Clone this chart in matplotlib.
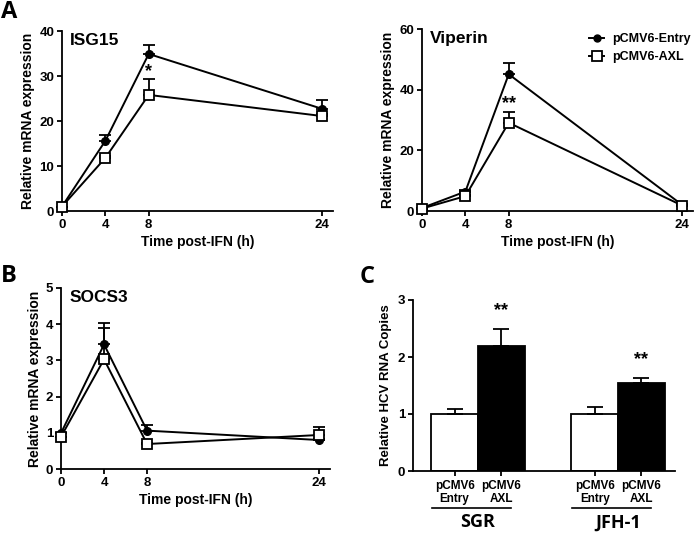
import matplotlib
matplotlib.use("Agg")
import matplotlib.pyplot as plt
import matplotlib.transforms as mtransforms
from matplotlib.lines import Line2D

# ---- data ----
time_h = [0, 4, 8, 24]
time_ticks = [0, 4, 8, 24]

isg15_entry = [1.0, 15.6, 34.9, 22.7]
isg15_entry_err = [0.0, 1.3, 2.1, 2.0]
isg15_axl = [1.0, 11.8, 25.8, 21.1]
isg15_axl_err = [0.0, 0.4, 3.5, 0.5]

viperin_entry = [1.0, 6.4, 45.1, 2.0]
viperin_entry_err = [0.0, 0.4, 3.6, 0.3]
viperin_axl = [0.8, 4.9, 29.1, 1.8]
viperin_axl_err = [0.0, 0.4, 3.6, 0.3]

socs3_entry = [0.99, 3.44, 1.06, 0.80]
socs3_entry_err = [0.0, 0.60, 0.15, 0.04]
socs3_axl = [0.89, 3.03, 0.69, 0.94]
socs3_axl_err = [0.0, 0.86, 0.04, 0.21]

bar_labels = ["pCMV6\nEntry", "pCMV6\nAXL", "pCMV6\nEntry", "pCMV6\nAXL"]
bar_groups = ["SGR", "JFH-1"]
hcv_copies = [1.0, 2.2, 1.0, 1.55]
hcv_err = [0.08, 0.30, 0.13, 0.08]
hcv_stars = ["", "**", "", "**"]

series_names = ["pCMV6-Entry", "pCMV6-AXL"]

# ---- figure ----
W, H = 695, 533
plt.rcParams['font.family'] = ['Liberation Sans', 'DejaVu Sans']
plt.rcParams['font.weight'] = 'bold'
plt.rcParams['axes.linewidth'] = 1.3
fig = plt.figure(figsize=(W / 100, H / 100), dpi=100)

def px_axes(left, right, top, bottom):
    # pixel box (origin top-left) -> figure fraction
    return fig.add_axes([left / W, 1 - bottom / H, (right - left) / W, (bottom - top) / H])

def style(ax):
    for s in ['top', 'right']:
        ax.spines[s].set_visible(False)
    ax.tick_params(direction='out', length=3.5, width=1.3, labelsize=9.5, pad=2)
    for lab in ax.get_xticklabels() + ax.get_yticklabels():
        lab.set_fontweight('bold')

def line_panel(ax, entry, entry_err, axl, axl_err, ymax, yticks, name):
    z = [0] * len(time_h)
    ax.errorbar(time_h, entry, yerr=[z, entry_err], fmt='none', ecolor='black',
                elinewidth=1.3, capsize=4, capthick=1.3, zorder=2, clip_on=False)
    ax.errorbar(time_h, axl, yerr=[z, axl_err], fmt='none', ecolor='black',
                elinewidth=1.3, capsize=4, capthick=1.3, zorder=2, clip_on=False)
    ax.plot(time_h, entry, '-o', color='black', lw=1.4, ms=5.5, zorder=3, clip_on=False)
    ax.plot(time_h, axl, '-s', color='black', mfc='white', mec='black', mew=1.3,
            lw=1.4, ms=7.5, zorder=4, clip_on=False)
    ax.set_xlim(0, 25)
    ax.set_ylim(0, ymax)
    ax.set_xticks(time_ticks)
    ax.set_yticks(yticks)
    ax.set_xlabel("Time post-IFN (h)", fontsize=10, fontweight='bold', labelpad=3)
    ax.set_ylabel("Relative mRNA expression", fontsize=10, fontweight='bold', labelpad=3)
    ax.text(0.03, 0.95, name, transform=ax.transAxes, fontsize=12.5, fontweight='bold',
            ha='left', va='center')
    style(ax)

# panel A left
ax1 = px_axes(62, 333, 31, 211)
line_panel(ax1, isg15_entry, isg15_entry_err, isg15_axl, isg15_axl_err,
           40, [0, 10, 20, 30, 40], "ISG15")
ax1.text(8, 31, "*", ha='center', va='center', fontsize=13, fontweight='bold')

# panel A right
ax2 = px_axes(422, 693, 29, 211)
line_panel(ax2, viperin_entry, viperin_entry_err, viperin_axl, viperin_axl_err,
           60, [0, 20, 40, 60], "Viperin")
ax2.text(8, 35.5, "**", ha='center', va='center', fontsize=13, fontweight='bold')

# legend
handles = [Line2D([], [], color='black', marker='o', ms=5, lw=1.4),
           Line2D([], [], color='black', marker='s', ms=6.5, mfc='white', mew=1.3, lw=1.4)]
fig.legend(handles, series_names, loc='upper left', bbox_to_anchor=(583 / W, 1 - 27 / H),
           frameon=False, handlelength=1.2, handletextpad=0.6, labelspacing=0.45,
           borderpad=0, prop={'weight': 'bold', 'size': 9})

# panel B
ax3 = px_axes(61, 330, 288, 469)
line_panel(ax3, socs3_entry, socs3_entry_err, socs3_axl, socs3_axl_err,
           5, [0, 1, 2, 3, 4, 5], "SOCS3")

# panel C
ax4 = px_axes(413, 675, 300, 471)
bar_x = [0, 1, 3, 4]
colors = ['white', 'black', 'white', 'black']
ax4.bar(bar_x, hcv_copies, width=1.0, color=colors, edgecolor='black', linewidth=1.3,
        yerr=[[0] * 4, hcv_err], capsize=6,
        error_kw={'elinewidth': 1.3, 'capthick': 1.3, 'ecolor': 'black'}, zorder=2)
for x, v, e, s in zip(bar_x, hcv_copies, hcv_err, hcv_stars):
    if s:
        ax4.text(x, v + e + 0.32, s, ha='center', va='center', fontsize=13, fontweight='bold')
ax4.set_xlim(-0.89, 4.72)
ax4.set_ylim(0, 3)
ax4.set_yticks([0, 1, 2, 3])
ax4.set_xticks(bar_x)
ax4.set_xticklabels(bar_labels, fontsize=8.5, linespacing=1.15)
ax4.set_ylabel("Relative HCV RNA Copies", fontsize=9.5, fontweight='bold', labelpad=4)
style(ax4)
ax4.tick_params(axis='x', labelsize=8.5, pad=3)

trans = mtransforms.blended_transform_factory(ax4.transData, ax4.transAxes)
for center, name in zip([0.5, 3.5], bar_groups):
    ax4.plot([center - 0.98, center + 0.7], [-0.215, -0.215], color='black', lw=1.2,
             transform=trans, clip_on=False)
    ax4.text(center, -0.30, name, transform=trans, ha='center', va='center',
             fontsize=13, fontweight='bold', family=['Open Sans', 'DejaVu Sans'])

# panel letters
for letter, (x, y) in zip("ABC", [(1, 12), (1, 276), (360, 277)]):
    fig.text(x / W, 1 - y / H, letter, ha='left', va='center', fontsize=17,
             fontweight='bold', family=['Open Sans', 'DejaVu Sans'])

fig.savefig("out.png", dpi=100)
